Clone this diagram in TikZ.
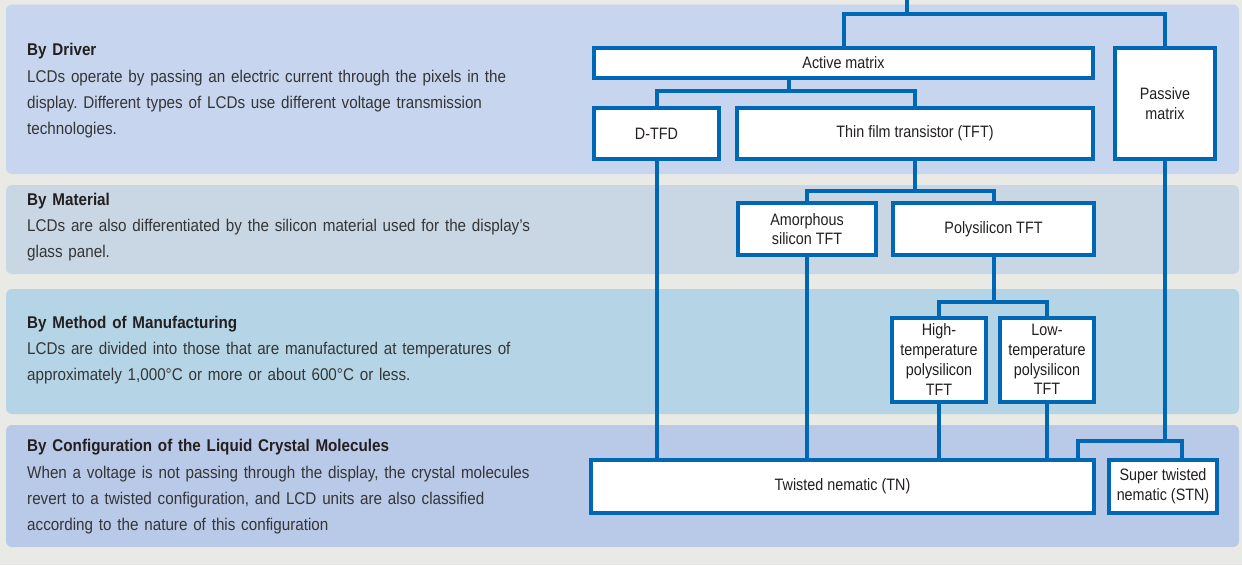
\documentclass[tikz,border=0pt]{standalone}
\usepackage{fontspec}
\setmainfont{Liberation Sans}[FakeStretch=0.87]
\newfontfamily\bandfont{Liberation Sans}[FakeStretch=0.895, WordSpace=1.37]
\definecolor{bgc}{HTML}{E9EAE6}
\definecolor{bandA}{HTML}{C7D5EE}
\definecolor{bandB}{HTML}{C9D6E3}
\definecolor{bandC}{HTML}{B5D5E6}
\definecolor{bandD}{HTML}{B9C9E8}
\definecolor{lcdblue}{HTML}{0067B4}
\definecolor{titlec}{HTML}{231F20}
\definecolor{bodyc}{HTML}{353535}
\tikzset{
  band/.style={rounded corners=6pt},
  bandtext/.style={anchor=north west, inner sep=0pt, align=left, text=bodyc,
    font=\bandfont\frenchspacing\fontsize{17}{26.3}\selectfont},
  lcdbox/.style={draw=lcdblue, line width=4pt, fill=white, inner sep=0pt,
    align=center, text=titlec, font=\fontsize{16.5}{19.8}\selectfont},
  conn/.style={draw=lcdblue, line width=4pt, line join=miter},
}
\newcommand{\ttl}[1]{{\bfseries\color{titlec}#1}}
\begin{document}
\begin{tikzpicture}[x=1pt,y=-1pt]
\fill[bgc] (0,0) rectangle (1242,565);
\useasboundingbox (0,0) rectangle (1242,565);
% bands
\fill[bandA,band] (6,4.5) rectangle (1239,174);
\fill[bandB,band] (6,185) rectangle (1239,274);
\fill[bandC,band] (6,289) rectangle (1239,414);
\fill[bandD,band] (6,425) rectangle (1239,547);
% band texts
\node[bandtext] (tA) at (27,43.4) {\ttl{By Driver}\\LCDs operate by passing an electric current through the pixels in the\\display. Different types of LCDs use different voltage transmission\\technologies.};
\node[bandtext] (tB) at (27,192.7) {\ttl{By Material}\\LCDs are also differentiated by the silicon material used for the display’s\\glass panel.};
\node[bandtext] (tC) at (27,315.7) {\ttl{By Method of Manufacturing}\\LCDs are divided into those that are manufactured at temperatures of\\approximately 1,000°C or more or about 600°C or less.};
\node[bandtext] (tD) at (27,439.4) {\ttl{By Configuration of the Liquid Crystal Molecules}\\When a voltage is not passing through the display, the crystal molecules\\revert to a twisted configuration, and LCD units are also classified\\according to the nature of this configuration};
% boxes
\node[lcdbox, minimum width=499pt, minimum height=30pt] (AM) at (843.5,63) {Active matrix};
\node[lcdbox, minimum width=100pt, minimum height=111pt] (PM) at (1165,103.5) {Passive\\matrix};
\node[lcdbox, minimum width=125pt, minimum height=51pt] (DTFD) at (656.5,133.5) {D-TFD};
\node[lcdbox, minimum width=356pt, minimum height=51pt] (TFT) at (915,133.5) {Thin film transistor (TFT)};
\node[lcdbox, minimum width=138pt, minimum height=52pt] (Amorph) at (807,229) {Amorphous\\silicon TFT};
\node[lcdbox, minimum width=201pt, minimum height=52pt] (Poly) at (993.5,229) {Polysilicon TFT};
\node[lcdbox, minimum width=94pt, minimum height=84pt] (High) at (939,359.5) {High-\\temperature\\polysilicon\\TFT};
\node[lcdbox, minimum width=94pt, minimum height=84pt] (Low) at (1047,359.5) {Low-\\temperature\\polysilicon\\TFT};
\node[lcdbox, minimum width=503pt, minimum height=53pt] (TN) at (842.5,486) {Twisted nematic (TN)};
\node[lcdbox, minimum width=108pt, minimum height=53pt] (STN) at (1163,486) {Super twisted\\nematic (STN)};
% connectors
\coordinate (root) at (907,0);
\coordinate (j1) at (907,13.7);
\draw[conn] (root) -- (j1);
\draw[conn] (AM.north) |- (j1) -| (PM.north);
\coordinate (j2) at (789,91.3);
\draw[conn] (j2 |- AM.south) -- (j2);
\draw[conn] (DTFD.north) |- (j2) -| (TFT.north);
\coordinate (j3) at (915,191);
\draw[conn] (TFT.south) -- (j3);
\draw[conn] (Amorph.north) |- (j3) -| (Poly.north);
\coordinate (j4) at (993.5,302);
\draw[conn] (Poly.south) -- (j4);
\draw[conn] (High.north) |- (j4) -| (Low.north);
\draw[conn] (DTFD.south) -- (DTFD.south |- TN.north);
\draw[conn] (Amorph.south) -- (Amorph.south |- TN.north);
\draw[conn] (High.south) -- (High.south |- TN.north);
\draw[conn] (Low.south) -- (Low.south |- TN.north);
\coordinate (j5) at (1165,441);
\coordinate (j5l) at (1078,441);
\coordinate (j5r) at (1182,441);
\draw[conn] (PM.south) -- (j5);
\draw[conn] (j5l |- TN.north) -- (j5l) -- (j5r) -- (j5r |- STN.north);
\end{tikzpicture}
\end{document}
